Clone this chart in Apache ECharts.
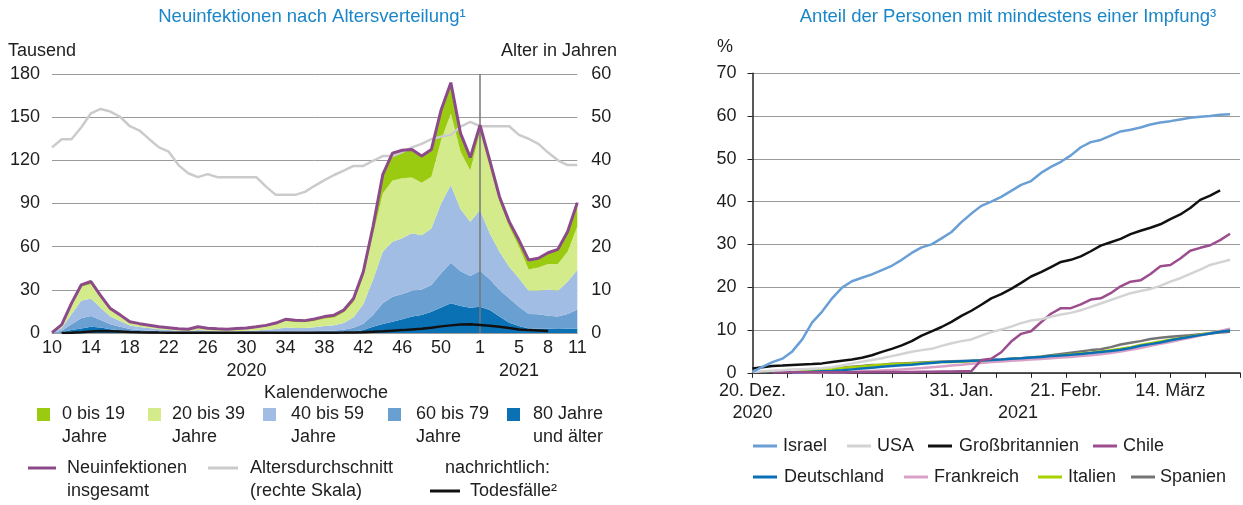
<!DOCTYPE html>
<html>
<head>
<meta charset="utf-8">
<script src="https://cdn.jsdelivr.net/npm/echarts@6.0.0/dist/echarts.min.js"></script>
<style>
html,body{margin:0;padding:0;background:#fff;}
#c{width:1243px;height:505px;}
</style>
</head>
<body>
<div id="c"></div>
<script>
// ---------- LEFT CHART DATA (thousand new infections per calendar week) ----------
const weeks = [10,11,12,13,14,15,16,17,18,19,20,21,22,23,24,25,26,27,28,29,30,31,32,33,34,35,36,37,38,39,40,41,42,43,44,45,46,47,48,49,50,51,52,53,
               1,2,3,4,5,6,7,8,9,10,11];
const xLabelIdx = [0,4,8,12,16,20,24,28,32,36,40,44,48,51,54];
const yearUnder = {20:'2020', 48:'2021'};

const age0_19 = [0,0.3,0.8,1.2,2.0,1.2,0.8,0.6,0.4,0.4,
  0.4,0.3,0.3,0.3,0.3,0.4,0.4,0.4,0.4,0.4,
  0.5,0.6,0.7,0.9,1.2,1.2,1.2,1.4,1.5,1.6,
  1.8,2.5,3.6,6,13,19,19.5,19.6,18.5,19,
  21,21.4,12.7,9,4.5,4.4,3.4,3.5,4.6,6.5,
  6.3,7.8,10.1,13.9,16.6];
const age20_39 = [0.1,2.0,6.8,9.7,9.8,7.3,4.7,3.6,2.2,1.9,
  1.6,1.4,1.3,1.1,1.0,1.9,1.4,1.2,1.1,1.4,
  1.5,1.9,2.4,3.2,4.5,4.1,3.9,4.4,5.1,5.4,
  7.2,10.5,19,31,40.5,42.5,41.7,38.7,36.5,35.9,
  44,49.8,40,35.6,54.5,46.3,34.8,27.9,22,14.8,
  16.2,17.7,18.6,20.8,30.2];
const age40_59 = [0.1,2.0,7.0,12.3,12.2,8.5,5.5,4.1,2.5,2.1,
  1.7,1.3,1.1,0.8,0.7,1.2,0.9,0.8,0.65,0.8,
  0.95,1.2,1.5,1.9,2.6,2.4,2.4,2.7,3.3,3.6,
  4.7,7.4,13.5,24.5,35.9,38.3,38.7,39.9,37.7,39.3,
  48.5,53.9,43,37.8,42.2,32,26.6,21.9,19.7,16.2,
  16.4,18.3,18,22.5,27.4];
const age60_79 = [0.05,1.0,4.0,7.0,7.4,5.2,3.4,2.4,1.5,1.2,
  1.0,0.8,0.6,0.5,0.35,0.5,0.4,0.3,0.3,0.35,
  0.4,0.45,0.55,0.7,0.95,0.85,0.85,1.0,1.15,1.4,
  1.8,2.7,4.5,8.1,14.3,17.3,17.6,18,17.8,18.6,
  23.7,28.3,24.2,22,25,21.3,18.5,16.9,13.4,10,
  10,9,8.6,10.2,13.2];
const age80plus = [0.05,0.5,2.0,3.2,4.4,3.8,2.6,1.9,1.2,0.9,
  0.7,0.5,0.4,0.3,0.25,0.3,0.2,0.2,0.15,0.15,
  0.15,0.15,0.15,0.2,0.25,0.25,0.25,0.3,0.35,0.4,
  0.5,0.9,2.0,4.4,6.3,7.9,9.5,11.4,12.5,14.8,
  17.8,20.6,18.8,17.6,18.3,16,11.4,7.2,4.9,3.2,
  3,3,2.8,3,3.2];
const avgAge = [43.0,44.9,44.9,47.6,50.9,51.9,51.3,50.1,47.9,46.9,
  44.9,43.0,42.0,38.9,37.0,36.1,36.8,36.1,36.1,36.1,
  36.1,36.1,33.9,32.0,32.0,32.0,32.7,34.1,35.4,36.6,
  37.6,38.7,38.7,39.9,41.0,41.0,41.9,43.0,43.8,44.9,
  45.5,45.9,47.8,48.9,47.9,47.9,47.9,47.9,45.9,45.0,
  43.8,41.8,40.0,38.9,38.9];
const deaths = [null,0.05,0.2,0.6,1.1,1.4,1.3,1.0,0.7,0.5,
  0.4,0.3,0.25,0.2,0.15,0.1,0.1,0.1,0.1,0.1,
  0.1,0.1,0.1,0.1,0.1,0.1,0.1,0.15,0.2,0.25,
  0.3,0.4,0.6,0.9,1.2,1.6,2.0,2.5,3.0,3.6,
  4.6,5.3,5.9,6.0,5.6,5.0,4.4,3.4,2.5,2.0,
  1.7,1.4,null,null,null];

// ---------- RIGHT CHART DATA (% of population with at least one dose) ----------
// days after 20 Dec 2020
const days = [0,2,4,6,8,10,12,14,16,18,20,22,24,26,28,30,32,34,36,38,40,42,44,46,48,
              50,52,54,56,58,60,62,64,66,68,70,72,74,76,78,80,82,84,86,88,90,92,94,96];
const dateTicks = {0:'20. Dez.\n2020', 21:'10. Jan.', 42:'31. Jan.', 63:'21. Febr.', 84:'14. März'};
const israel = [0.2,1.4,2.5,3.3,5.0,7.8,11.8,14.3,17.4,19.9,21.4,22.2,23.0,24.0,25.0,26.4,28.0,29.3,30.0,31.4,32.9,35.2,37.2,39.0,40.0,
  41.1,42.5,43.9,44.8,46.7,48.1,49.3,50.8,52.7,53.9,54.4,55.4,56.4,56.8,57.3,58.0,58.5,58.8,59.2,59.6,59.8,60.0,60.3,60.4];
const usa = [0.2,0.35,0.5,0.6,0.75,0.85,0.95,1.05,1.3,1.7,2.2,2.6,3.0,3.4,3.9,4.4,4.9,5.3,5.6,6.3,6.9,7.4,7.8,8.7,9.5,
  10.1,10.8,11.6,12.2,12.5,13.1,13.6,14.0,14.6,15.4,16.2,17.0,17.8,18.6,19.1,19.6,20.3,21.3,22.1,23.1,24.1,25.2,25.8,26.4];
const uk = [1.0,1.3,1.6,1.7,1.85,1.95,2.05,2.2,2.5,2.8,3.1,3.5,4.1,4.9,5.6,6.4,7.4,8.7,9.7,10.7,11.9,13.3,14.5,15.9,17.4,
  18.4,19.6,21.0,22.5,23.5,24.7,25.9,26.4,27.2,28.4,29.7,30.5,31.3,32.4,33.2,33.9,34.7,35.9,37.0,38.5,40.4,41.4,42.6,null];
const chile = [null,null,0.1,0.1,0.1,0.1,0.1,0.1,0.1,0.1,0.1,0.15,0.2,0.2,0.2,0.2,0.2,0.25,0.25,0.3,0.3,0.35,0.4,3.0,3.3,
  4.8,7.3,9.1,9.7,11.8,13.8,15.1,15.1,16.0,17.1,17.4,18.6,20.2,21.3,21.6,23.1,24.9,25.2,26.7,28.5,29.2,29.8,31.0,32.5];
const deutschland = [null,null,null,null,0.05,0.15,0.25,0.35,0.45,0.6,0.8,1.0,1.2,1.4,1.6,1.75,1.9,2.1,2.3,2.5,2.6,2.7,2.8,2.9,3.0,
  3.1,3.3,3.4,3.55,3.7,3.9,4.05,4.2,4.4,4.6,4.85,5.1,5.4,5.8,6.3,6.7,7.1,7.6,8.0,8.4,8.8,9.2,9.6,9.9];
const frankreich = [null,null,null,null,0.0,0.02,0.05,0.08,0.1,0.15,0.25,0.35,0.45,0.55,0.65,0.8,0.95,1.1,1.3,1.5,1.7,1.9,2.1,2.3,2.5,
  2.65,2.8,2.95,3.1,3.25,3.4,3.55,3.7,3.9,4.1,4.35,4.65,5.0,5.4,5.8,6.3,6.8,7.2,7.7,8.2,8.7,9.2,9.8,10.3];
const italien = [null,null,null,null,0.1,0.3,0.5,0.7,0.9,1.1,1.3,1.5,1.7,1.9,2.0,2.1,2.2,2.3,2.4,2.5,2.55,2.6,2.7,2.8,2.9,
  3.0,3.2,3.35,3.5,3.7,3.9,4.1,4.3,4.5,4.7,5.0,5.3,5.6,6.0,6.5,6.9,7.3,7.7,8.1,8.5,8.9,9.3,9.7,10.1];
const spanien = [null,null,null,null,0.1,0.3,0.5,0.7,0.9,1.2,1.4,1.6,1.8,1.9,2.1,2.2,2.3,2.4,2.5,2.6,2.7,2.75,2.8,2.9,3.0,
  3.1,3.3,3.4,3.55,3.8,4.1,4.4,4.7,5.0,5.3,5.5,6.0,6.6,7.0,7.4,7.9,8.2,8.4,8.6,8.8,9.0,9.2,9.4,9.6];

// ---------- STYLE ----------
const FONT = '"Liberation Sans", Arial, Helvetica, sans-serif';
const FS = 18;
const TXT = '#1e1e1e';
const BLUE_TITLE = '#1a86c8';
const GRID = '#9a9a9a';
const C = {
  a0: '#9bcb10', a20: '#d4eb8c', a40: '#a2bde3', a60: '#6a9fd1', a80: '#0a71b4',
  total: '#8d4a8b', avg: '#cbcbcb', deaths: '#111111',
  israel: '#6a9fd6', usa: '#d3d3d3', uk: '#111111', chile: '#9b4d8e',
  de: '#0a6fb4', fr: '#d8a0c6', it: '#a8d100', es: '#747474'
};

const cats = weeks.map((w, i) => (i < 44 ? '2020' : '2021') + '-' + w);
const total = weeks.map((w, i) => +(age0_19[i] + age20_39[i] + age40_59[i] + age60_79[i] + age80plus[i]).toFixed(2));
const pairs = arr => days.map((d, i) => [d, arr[i]]).filter(p => p[1] !== null);

function areaSeries(name, data, color) {
  return { name, type: 'line', stack: 'age', data, symbol: 'none', xAxisIndex: 0, yAxisIndex: 0,
    lineStyle: { width: 0 }, areaStyle: { color, opacity: 1 }, itemStyle: { color }, z: 2 };
}
function lineSeries(name, data, color, width, xi, yi, z) {
  return { name, type: 'line', data, symbol: 'none', xAxisIndex: xi, yAxisIndex: yi,
    lineStyle: { color, width }, itemStyle: { color }, z: z || 3, connectNulls: false };
}

const series = [
  areaSeries('80 Jahre und älter', age80plus, C.a80),
  areaSeries('60 bis 79 Jahre', age60_79, C.a60),
  areaSeries('40 bis 59 Jahre', age40_59, C.a40),
  areaSeries('20 bis 39 Jahre', age20_39, C.a20),
  areaSeries('0 bis 19 Jahre', age0_19, C.a0),
  lineSeries('Altersdurchschnitt', avgAge, C.avg, 2.5, 0, 1, 4),
  lineSeries('Neuinfektionen insgesamt', total, C.total, 3, 0, 0, 5),
  Object.assign(lineSeries('Todesfälle', deaths, C.deaths, 2.5, 0, 0, 6), {
    markLine: { silent: true, symbol: 'none', label: { show: false },
      lineStyle: { color: '#777', width: 1.5, type: 'solid' }, data: [{ xAxis: 44 }] }
  }),
  lineSeries('Spanien', pairs(spanien), C.es, 2.5, 1, 2, 3),
  lineSeries('Italien', pairs(italien), C.it, 2.5, 1, 2, 3),
  lineSeries('Frankreich', pairs(frankreich), C.fr, 2.5, 1, 2, 3),
  lineSeries('Deutschland', pairs(deutschland), C.de, 2.5, 1, 2, 3),
  lineSeries('Chile', pairs(chile), C.chile, 2.5, 1, 2, 3),
  lineSeries('USA', pairs(usa), C.usa, 2.5, 1, 2, 3),
  lineSeries('Großbritannien', pairs(uk), C.uk, 2.5, 1, 2, 3),
  lineSeries('Israel', pairs(israel), C.israel, 2.5, 1, 2, 3)
];

const T = (text, x, y, opts) => Object.assign({ type: 'text', x, y, silent: true,
  style: Object.assign({ text, font: FS + 'px ' + FONT, fill: TXT, verticalAlign: 'middle', align: 'left' }, (opts || {}).style || {}) }, opts && opts.el || {});
const sq = (x, y, color) => ({ type: 'rect', silent: true, shape: { x, y, width: 13, height: 13 }, style: { fill: color } });
const ln = (x1, x2, y, color, w) => ({ type: 'line', silent: true, shape: { x1, y1: y, x2, y2: y }, style: { stroke: color, lineWidth: w || 3 } });

const ML = { style: { lineHeight: 23, verticalAlign: 'top' } };
const TITLE = { align: 'center', fill: BLUE_TITLE, font: '18.5px ' + FONT };
const graphics = [
  T('Neuinfektionen nach Altersverteilung¹', 312, 17, { style: TITLE }),
  T('Anteil der Personen mit mindestens einer Impfung³', 1008, 17, { style: TITLE }),
  T('Tausend', 8, 51),
  T('Alter in Jahren', 617, 51, { style: { align: 'right' } }),
  T('Kalenderwoche', 326, 393, { style: { align: 'center' } }),
  T('%', 717, 47),
  T('2021', 1018, 413, { style: { align: 'center' } }),
  // left legend row 1
  sq(37, 408, C.a0), T('0 bis 19\nJahre', 62, 403, ML),
  sq(148, 408, C.a20), T('20 bis 39\nJahre', 172, 403, ML),
  sq(263, 408, C.a40), T('40 bis 59\nJahre', 291, 403, ML),
  sq(388, 408, C.a60), T('60 bis 79\nJahre', 416, 403, ML),
  sq(507, 408, C.a80), T('80 Jahre\nund älter', 533, 403, ML),
  // left legend row 2
  ln(28, 56, 468, C.total), T('Neuinfektionen\ninsgesamt', 67, 457, ML),
  ln(208, 238, 468, C.avg), T('Altersdurchschnitt\n(rechte Skala)', 250, 457, ML),
  T('nachrichtlich:', 445, 468),
  ln(430, 460, 491, C.deaths), T('Todesfälle²', 470, 491),
  // right legend
  ln(753, 777, 446, C.israel), T('Israel', 783, 446),
  ln(847, 871, 446, C.usa), T('USA', 877, 446),
  ln(928, 952, 446, C.uk), T('Großbritannien', 959, 446),
  ln(1093, 1117, 446, C.chile), T('Chile', 1123, 446),
  ln(753, 777, 477, C.de), T('Deutschland', 784, 477),
  ln(904, 928, 477, C.fr), T('Frankreich', 934, 477),
  ln(1038, 1062, 477, C.it), T('Italien', 1068, 477),
  ln(1131, 1155, 477, C.es), T('Spanien', 1160, 477)
];

const axisFont = { fontFamily: FONT, fontSize: FS, color: TXT };

const option = {
  animation: false,
  backgroundColor: '#fff',
  textStyle: { fontFamily: FONT },
  grid: [
    { left: 52, top: 74, width: 525.3, height: 259 },
    { left: 752.5, top: 73.2, width: 489, height: 299.6 }
  ],
  xAxis: [
    { type: 'category', gridIndex: 0, data: cats, boundaryGap: false,
      axisLine: { show: true, lineStyle: { color: GRID, width: 1 } },
      axisTick: { show: false },
      axisLabel: Object.assign({}, axisFont, { interval: 0, margin: 4, lineHeight: 23, hideOverlap: false,
        formatter: (v, idx) => xLabelIdx.includes(idx) ? (weeks[idx] + (yearUnder[idx] ? '\n' + yearUnder[idx] : '')) : '' }),
      splitLine: { show: false } },
    { type: 'value', gridIndex: 1, min: 0, max: 98, interval: 7,
      axisLine: { show: true, onZero: false, lineStyle: { color: '#222', width: 1.5 } },
      axisTick: { show: true, length: 5, lineStyle: { color: '#222', width: 1 } },
      axisLabel: Object.assign({}, axisFont, { margin: 7, lineHeight: 22, hideOverlap: false, showMinLabel: true, showMaxLabel: true,
        formatter: v => dateTicks[v] !== undefined ? dateTicks[v] : '' }),
      splitLine: { show: false } }
  ],
  yAxis: [
    { type: 'value', gridIndex: 0, min: 0, max: 180, interval: 30,
      axisLine: { show: false }, axisTick: { show: false },
      axisLabel: Object.assign({}, axisFont, { margin: 12 }),
      splitLine: { show: true, lineStyle: { color: GRID, width: 1 } } },
    { type: 'value', gridIndex: 0, min: 0, max: 60, interval: 10, position: 'right',
      axisLine: { show: false }, axisTick: { show: false },
      axisLabel: Object.assign({}, axisFont, { margin: 14 }),
      splitLine: { show: false } },
    { type: 'value', gridIndex: 1, min: 0, max: 70, interval: 10,
      axisLine: { show: true, lineStyle: { color: '#222', width: 1.5 } },
      axisTick: { show: true, length: 5, lineStyle: { color: '#222', width: 1 } },
      axisLabel: Object.assign({}, axisFont, { margin: 16 }),
      splitLine: { show: true, lineStyle: { color: GRID, width: 1 } } }
  ],
  series,
  graphic: { elements: graphics }
};

const chart = echarts.init(document.getElementById('c'), null, { renderer: 'canvas', width: 1243, height: 505 });
chart.setOption(option);
</script>
</body>
</html>
